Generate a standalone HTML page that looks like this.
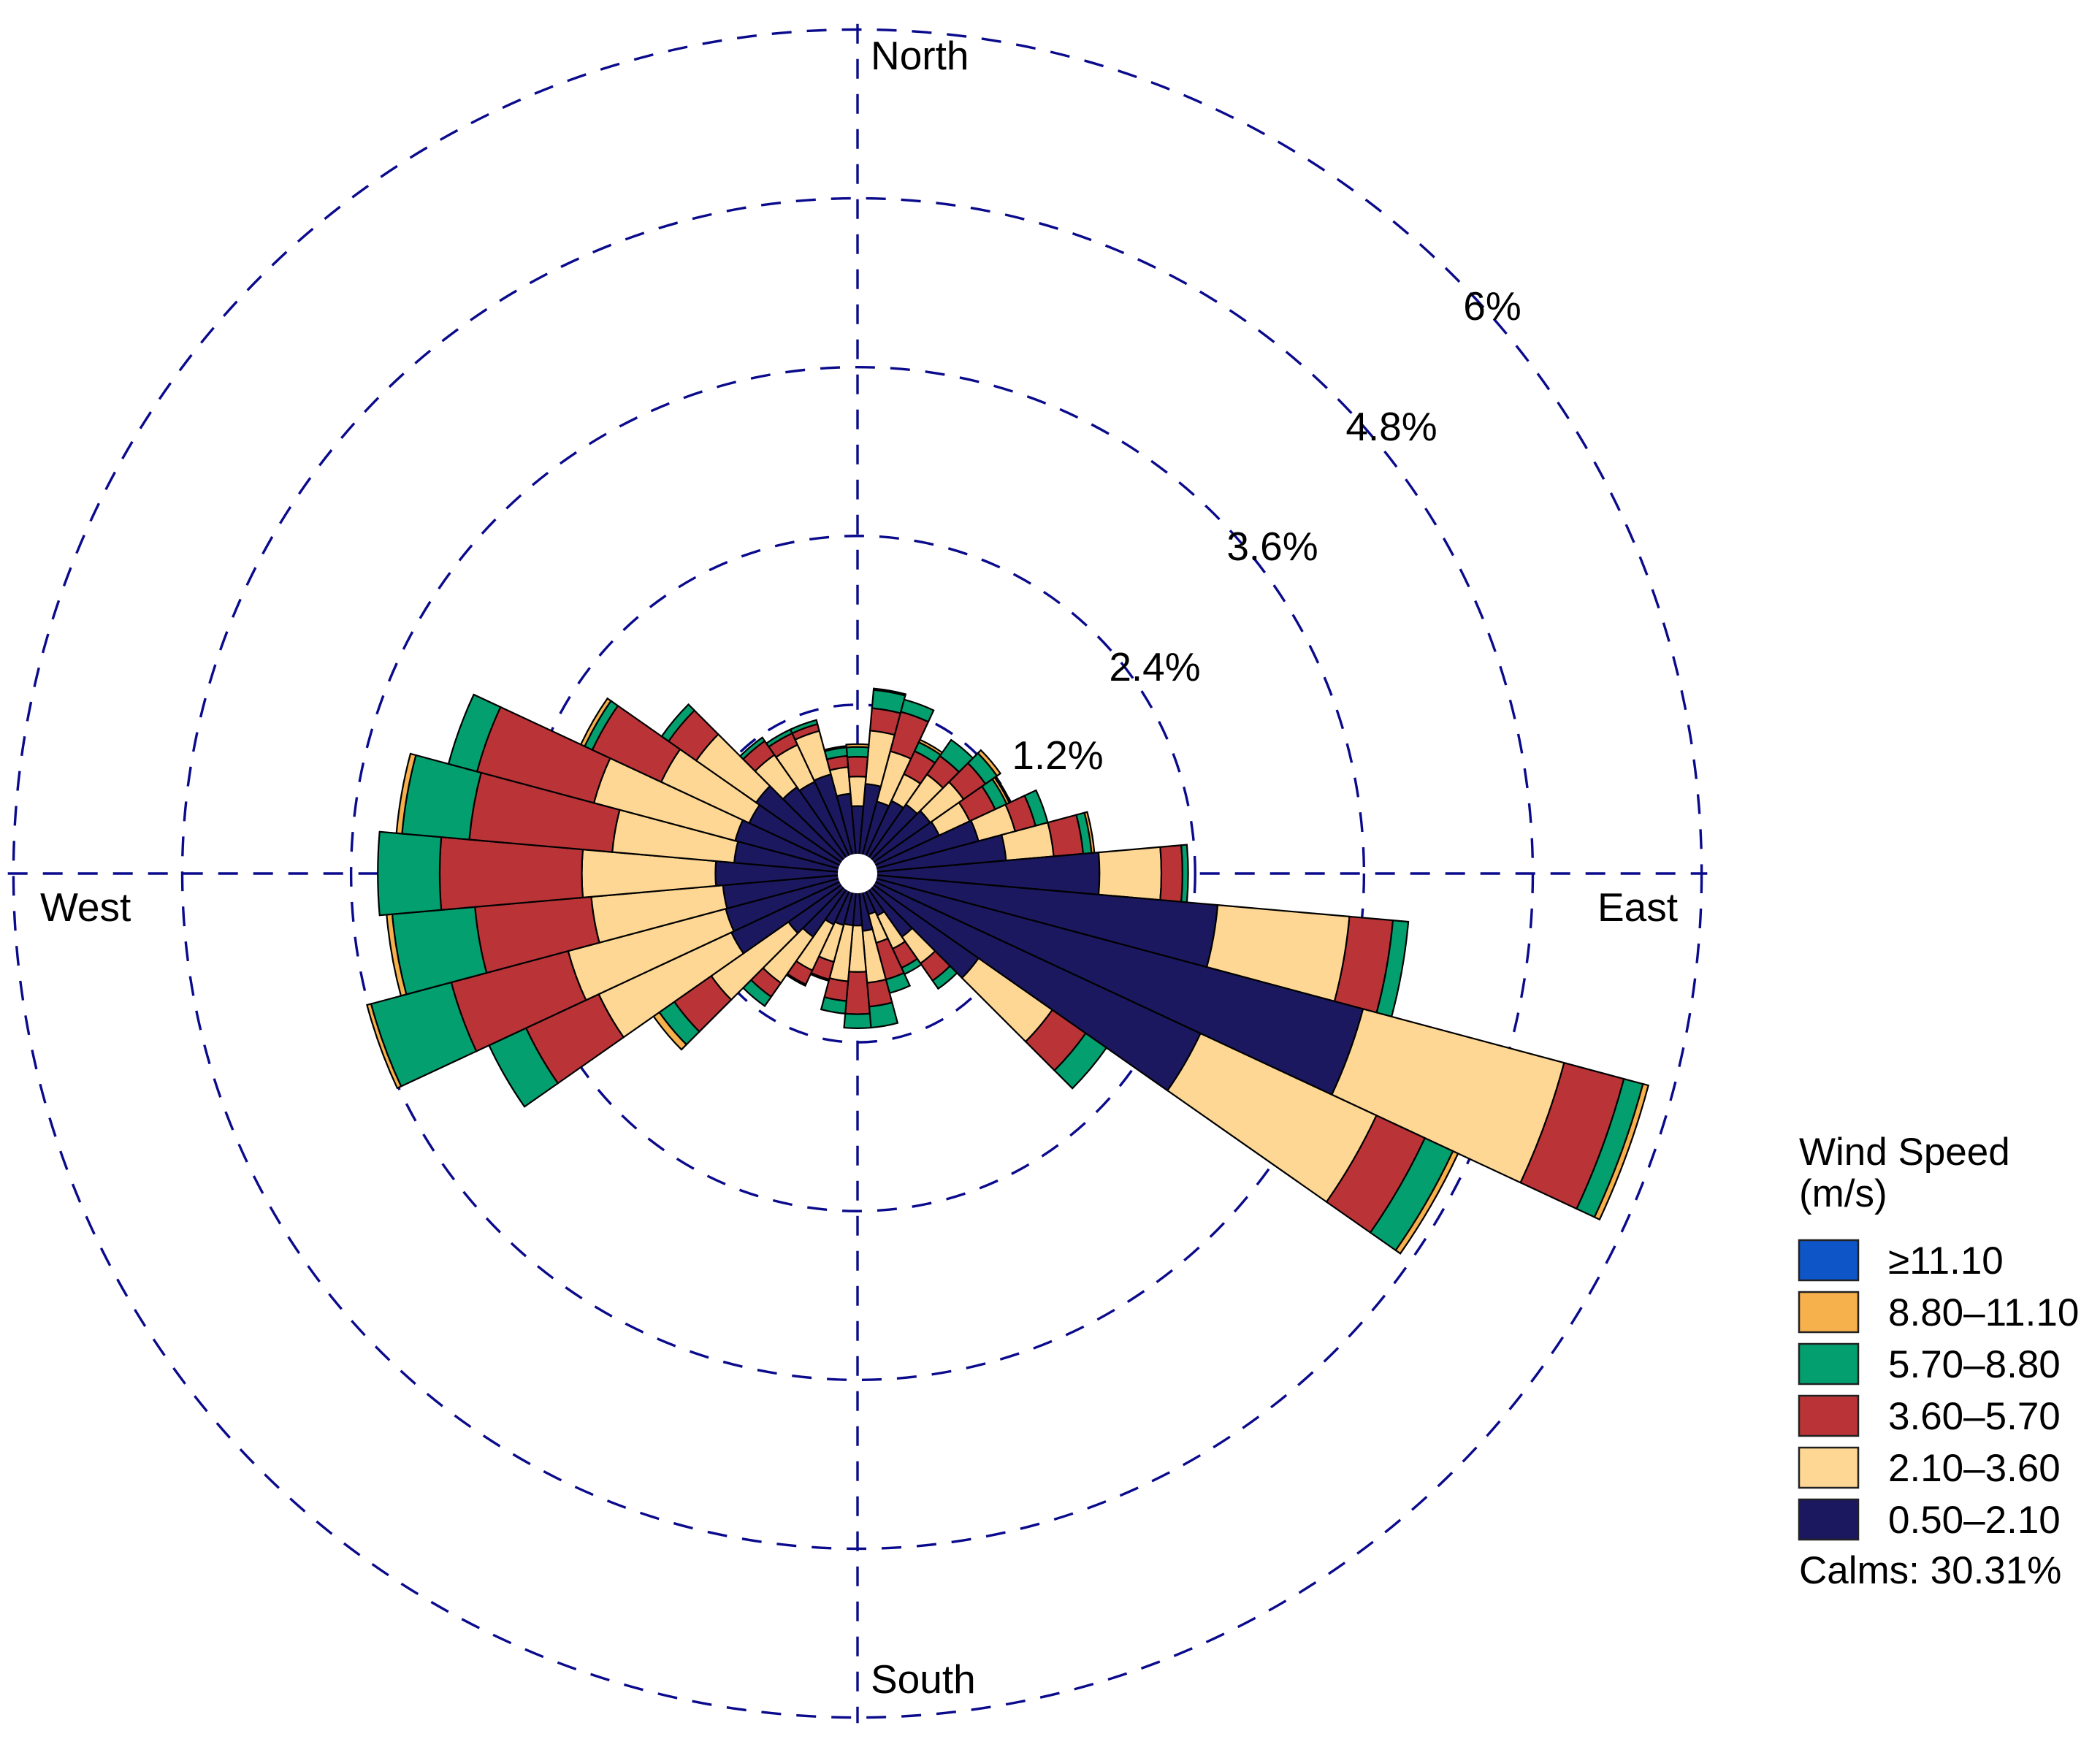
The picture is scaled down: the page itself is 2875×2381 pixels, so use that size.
<!DOCTYPE html>
<html><head><meta charset="utf-8">
<style>
html,body{margin:0;padding:0;background:#fff;}
svg{display:block;font-family:"Liberation Sans",Arial,sans-serif;}
</style></head>
<body>
<svg id="chart" width="2875" height="2381" viewBox="0 0 2875 2381" xmlns="http://www.w3.org/2000/svg">
<rect width="2875" height="2381" fill="#fff"/>
<g id="grid"></g>
<g id="bars"></g>
<circle cx="1174" cy="1196" r="27" fill="#fff"/>
<g id="labels" font-size="55" fill="#000">
<text x="1192" y="95">North</text>
<text x="1192" y="2318">South</text>
<text x="55" y="1261">West</text>
<text x="2187" y="1261">East</text>
</g>
<g id="ringlabels" font-size="55" text-anchor="middle">
<text x="2043" y="438">6%</text>
<text x="1905" y="603">4.8%</text>
<text x="1742" y="767">3.6%</text>
<text x="1581" y="932">2.4%</text>
<text x="1448" y="1053">1.2%</text>
</g>
<g id="legend" font-size="53">
<text x="2463" y="1595">Wind Speed</text>
<text x="2463" y="1652">(m/s)</text>
<text x="2463" y="2168">Calms: 30.31%</text>
</g>
</svg>
<script>
// ---- data ----
const directions = [10,20,30,40,50,60,70,80,90,100,110,120,130,140,150,160,170,180,190,200,210,220,230,240,250,260,270,280,290,300,310,320,330,340,350,360];
const band1 = [.64,.53,.57,.60,.63,.64,.89,1.06,1.72,2.57,3.72,2.69,1.05,.55,.33,.30,.41,.37,.37,.38,.40,.55,.60,.99,.97,.96,1.01,.88,.90,.85,.88,.75,.72,.73,.57,.48];
const band2 = [.38,.37,.21,.26,.29,.24,.27,.34,.44,.94,1.48,1.38,.64,.23,.26,.21,.37,.33,.40,.27,.36,.40,.67,1.04,1.16,.94,.95,.87,1.04,.69,.52,.28,.29,.32,.19,.21];
const band3 = [.16,.29,.18,.16,.19,.20,.15,.21,.15,.31,.44,.38,.29,.15,.15,.27,.17,.30,.14,.13,.11,.12,.32,.57,.86,.83,1.01,1.02,.86,.54,.24,.12,.09,.05,.08,.14];
const band4 = [.13,.09,.07,.14,.10,.09,.09,.06,.04,.11,.14,.22,.18,.07,.05,.10,.15,.10,.09,.01,.01,.08,.13,.29,.59,.59,.44,.48,.21,.06,.06,.03,.03,.03,.06,.07];
const band5 = [.01,0,.02,0,.03,.02,0,.02,0,0,.04,.04,0,0,0,0,0,0,0,0,0,0,.05,0,.03,.04,0,.04,0,.03,0,0,0,0,.01,.02];
const band6 = [0,0,0,0,0,.01,0,0,0,0,0,0,0,0,0,0,0,0,0,0,0,0,0,0,0,0,0,0,0,0,0,0,0,0,0,0];
const bandLabels = ["0.50\u20132.10","2.10\u20133.60","3.60\u20135.70","5.70\u20138.80","8.80\u201311.10","\u226511.10"];
const bandColors = ["#1b1860","#fed794","#ba3437","#039f6e","#f6b04c","#0e56c8"];
const ringTicks = [1.2,2.4,3.6,4.8,6];

// ---- scales ----
const CX=1174, CY=1196, PX=192.6;
const NS="http://www.w3.org/2000/svg";
function rScale(v){return v*PX;}
function pt(deg,r){const a=deg*Math.PI/180;return [CX+r*Math.sin(a), CY-r*Math.cos(a)];}
function mk(tag,attrs,parent){const e=document.createElementNS(NS,tag);for(const k in attrs)e.setAttribute(k,attrs[k]);parent.appendChild(e);return e;}

// grid
const grid=document.getElementById('grid');
ringTicks.forEach((t,i)=>{
  const c=mk('circle',{cx:CX,cy:CY,r:rScale(t),fill:'none',stroke:'#0a0a8c','stroke-width':3.4,'stroke-dasharray':'27 21'},grid);
  
  
});
const axR=rScale(6.04);
const vl=mk('line',{x1:CX,y1:CY-axR,x2:CX,y2:CY+axR,stroke:'#0a0a8c','stroke-width':3.4,'stroke-dasharray':'27 21'},grid);


const hl=mk('line',{x1:CX-axR,y1:CY,x2:CX+axR,y2:CY,stroke:'#0a0a8c','stroke-width':3.4,'stroke-dasharray':'27 21'},grid);



// bars
const bars=document.getElementById('bars');
const bands=[band1,band2,band3,band4,band5,band6];
function sector(a0,a1,r0,r1){
  const p1=pt(a0,r0),p2=pt(a0,r1),p3=pt(a1,r1),p4=pt(a1,r0);
  let d=`M${p1[0]},${p1[1]} L${p2[0]},${p2[1]} A${r1},${r1} 0 0 1 ${p3[0]},${p3[1]} L${p4[0]},${p4[1]}`;
  if(r0>0) d+=` A${r0},${r0} 0 0 0 ${p1[0]},${p1[1]}`;
  return d+'Z';
}
directions.forEach((dir,i)=>{
  let cum=0;
  bands.forEach((b,j)=>{
    const v=b[i];
    if(v<=0) return;
    const r0=rScale(cum), r1=rScale(cum+v);
    cum+=v;
    const p=mk('path',{d:sector(dir-5,dir+5,r0,r1),fill:bandColors[j],stroke:'#000','stroke-width':2.2,'stroke-linejoin':'miter'},bars);
    
    
  });
});

// legend
const lg=document.getElementById('legend');
for(let k=5;k>=0;k--){
  const row=5-k;
  const y=1698+row*71;
  const r=mk('rect',{x:2463,y:y,width:81,height:55,fill:bandColors[k],stroke:'#222','stroke-width':2.5},lg);
  
  
  const t=mk('text',{x:2585,y:y+46},lg);
  t.textContent=bandLabels[k];
  
  
}
</script>
</body></html>
